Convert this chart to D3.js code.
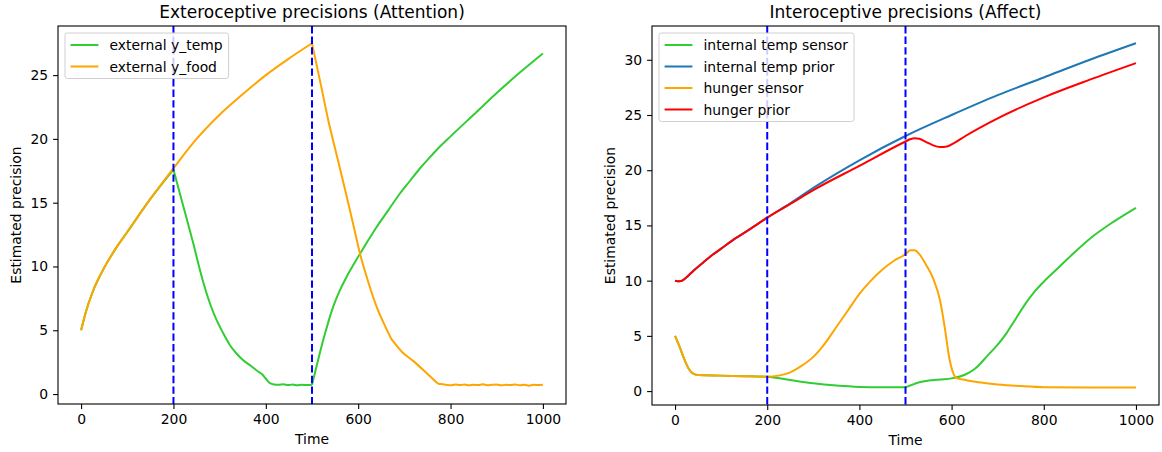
<!DOCTYPE html>
<html>
<head>
<meta charset="utf-8">
<title>Precisions</title>
<script src="https://d3js.org/d3.v7.min.js"></script>
<style>
  body { margin: 0; background: #fff; }
  svg text { font-family: "DejaVu Sans", sans-serif; fill: #000; }
</style>
</head>
<body>
<div id="chart"></div>
<script>
// ---- data ----
var timeTicks = [0, 200, 400, 600, 800, 1000];
var switchTimes = [200, 500];
var leftYTicks = [0, 5, 10, 15, 20, 25];
var rightYTicks = [0, 5, 10, 15, 20, 25, 30];

// left panel: external y_temp
var extTempT = [0, 10, 25, 50, 75, 100, 150, 200, 214, 229, 243, 255, 265, 280, 294, 308, 322, 336, 351, 368, 384, 392, 400, 409, 418,
  428, 438, 448, 458, 468, 478, 488, 500, 512, 524, 535, 546, 560, 575, 590, 604, 620, 640, 665, 690, 712, 734, 755, 777, 800, 850, 900, 950, 1000];
var extTempY = [5, 6.4, 8.0, 9.9, 11.4, 12.7, 15.3, 17.6, 15.7, 13.7, 11.8, 10.05, 8.7, 7.0, 5.75, 4.75, 3.85, 3.2, 2.65, 2.2, 1.75, 1.55, 1.2, 0.85, 0.75,
  0.72, 0.76, 0.7, 0.74, 0.69, 0.73, 0.7, 0.72, 2.5, 4.2, 5.6, 6.85, 8.1, 9.2, 10.15, 11.0, 11.95, 13.1, 14.4, 15.7, 16.7, 17.7, 18.55, 19.4, 20.2, 21.9, 23.6, 25.2, 26.7];

// left panel: external y_food
var extFoodT = [0, 10, 25, 50, 75, 100, 150, 200, 250, 300, 350, 400, 450, 500, 520, 535, 555, 575, 590, 604, 620, 640, 656, 672, 695, 719, 745, 773,
  790, 800, 810, 820, 830, 840, 850, 860, 870, 880, 890, 900, 910, 920, 930, 940, 950, 960, 970, 980, 990, 1000];
var extFoodY = [5, 6.4, 8.0, 9.9, 11.4, 12.7, 15.3, 17.7, 20.0, 21.9, 23.5, 25.0, 26.3, 27.5, 24.1, 21.5, 18.5, 15.5, 13.2, 11.0, 9.0, 6.84, 5.5, 4.3, 3.3, 2.6, 1.75, 0.8,
  0.72, 0.68, 0.75, 0.7, 0.74, 0.68, 0.73, 0.7, 0.76, 0.69, 0.72, 0.74, 0.68, 0.72, 0.7, 0.75, 0.69, 0.72, 0.66, 0.73, 0.7, 0.72];

// right panel
var intSensorT = [0, 10, 20, 30, 40, 50, 100, 150, 200, 250, 300, 350, 400, 450, 500, 510, 530, 550, 575, 600, 630, 650, 680, 700,
  720, 740, 760, 780, 800, 830, 860, 900, 950, 1000];
var intSensorY = [5, 4.0, 2.9, 2.0, 1.55, 1.45, 1.4, 1.35, 1.3, 1.0, 0.7, 0.5, 0.38, 0.35, 0.35, 0.5, 0.8, 0.95, 1.05, 1.15, 1.5, 2.0, 3.3, 4.2,
  5.3, 6.6, 7.9, 9.0, 9.9, 11.1, 12.3, 13.8, 15.3, 16.6];

var intPriorT = [0, 5, 15, 25, 40, 60, 80, 100, 130, 160, 200, 250, 300, 400, 500, 600, 700, 800, 900, 1000];
var intPriorY = [10, 9.95, 10.0, 10.3, 10.9, 11.6, 12.3, 12.9, 13.8, 14.6, 15.7, 17.0, 18.4, 20.9, 23.1, 25.0, 26.8, 28.4, 30.0, 31.5];

var hungerSensorT = [0, 10, 20, 30, 40, 50, 100, 150, 200, 225, 250, 275, 300, 325, 350, 375, 400, 425, 450, 475, 500, 510, 520, 530,
  545, 560, 575, 585, 595, 603, 610, 630, 660, 700, 750, 800, 900, 1000];
var hungerSensorY = [5, 4.0, 2.9, 2.0, 1.55, 1.45, 1.4, 1.35, 1.3, 1.4, 1.7, 2.3, 3.1, 4.3, 5.8, 7.3, 8.8, 10.0, 11.0, 11.8, 12.4, 12.75, 12.75, 12.4,
  11.4, 10.2, 8.2, 5.8, 3.0, 1.7, 1.2, 1.0, 0.8, 0.6, 0.45, 0.35, 0.32, 0.32];

var hungerPriorT = [0, 5, 15, 25, 40, 60, 80, 100, 130, 160, 200, 250, 300, 400, 500, 510, 520, 530, 545, 560, 575, 590, 605, 630, 700, 800, 900, 1000];
var hungerPriorY = [10, 9.95, 10.0, 10.3, 10.9, 11.6, 12.3, 12.9, 13.8, 14.6, 15.7, 16.95, 18.2, 20.4, 22.6, 22.8, 22.9, 22.85, 22.55, 22.25, 22.1, 22.15, 22.45, 23.1, 24.7, 26.6, 28.2, 29.7];

function zipSeries(t, y) { return t.map(function(d, i) { return [d, y[i]]; }); }

var panels = [
  { title: "Exteroceptive precisions (Attention)", box: [58, 26, 566, 404], ydom: [-0.78, 28.85], yticks: leftYTicks,
    series: [
      { name: "external y_temp", color: "#32cd32", data: zipSeries(extTempT, extTempY), corners: [200, 500] },
      { name: "external y_food", color: "#ffa500", data: zipSeries(extFoodT, extFoodY), corners: [500, 672, 773] }
    ] },
  { title: "Interoceptive precisions (Affect)", box: [652, 26, 1159, 405], ydom: [-1.26, 33.06], yticks: rightYTicks,
    series: [
      { name: "internal temp sensor", color: "#32cd32", data: zipSeries(intSensorT, intSensorY), corners: [500] },
      { name: "internal temp prior", color: "#1f77b4", data: zipSeries(intPriorT, intPriorY), corners: [] },
      { name: "hunger sensor", color: "#ffa500", data: zipSeries(hungerSensorT, hungerSensorY), corners: [] },
      { name: "hunger prior", color: "#ff0000", data: zipSeries(hungerPriorT, hungerPriorY), corners: [] }
    ] }
];

var svg = d3.select("#chart").append("svg")
  .attr("width", 1162).attr("height", 452);
svg.append("rect").attr("width", 1162).attr("height", 452).attr("fill", "#fff");

// split a series at sharp corners so the smoothing doesn't round them off
function pieces(data, corners) {
  var out = [], cur = [];
  data.forEach(function(d) {
    cur.push(d);
    if (corners.indexOf(d[0]) >= 0) { out.push(cur); cur = [d]; }
  });
  if (cur.length > 1) out.push(cur);
  return out;
}

panels.forEach(function(p) {
  var x0 = p.box[0], y0 = p.box[1], x1 = p.box[2], y1 = p.box[3];
  var x = d3.scaleLinear().domain([-50, 1050]).range([x0, x1]);
  var y = d3.scaleLinear().domain(p.ydom).range([y1, y0]);
  var g = svg.append("g");

  var clipId = "clip" + x0;
  g.append("clipPath").attr("id", clipId).append("rect")
    .attr("x", x0).attr("y", y0).attr("width", x1 - x0).attr("height", y1 - y0);

  var line = d3.line().x(function(d) { return x(d[0]); }).y(function(d) { return y(d[1]); })
    .curve(d3.curveMonotoneX);

  var plot = g.append("g").attr("clip-path", "url(#" + clipId + ")");
  p.series.forEach(function(s) {
    var d = pieces(s.data, s.corners).map(function(seg) { return line(seg); }).join("");
    plot.append("path").attr("d", d)
      .attr("fill", "none").attr("stroke", s.color).attr("stroke-width", 2)
      .attr("stroke-linejoin", "round").attr("stroke-linecap", "butt");
  });

  // dashed switch markers
  plot.selectAll("line.vl").data(switchTimes).enter().append("line")
    .attr("x1", function(d) { return x(d); }).attr("x2", function(d) { return x(d); })
    .attr("y1", y0).attr("y2", y1)
    .attr("stroke", "#0000ff").attr("stroke-width", 2).attr("stroke-dasharray", "7.4,3.2");

  // axes
  var xa = g.append("g").attr("transform", "translate(0," + y1 + ")")
    .call(d3.axisBottom(x).tickValues(timeTicks).tickFormat(d3.format("d"))
      .tickSize(4.9).tickPadding(4.9).tickSizeOuter(0));
  var ya = g.append("g").attr("transform", "translate(" + x0 + ",0)")
    .call(d3.axisLeft(y).tickValues(p.yticks).tickFormat(d3.format("d"))
      .tickSize(4.9).tickPadding(4.9).tickSizeOuter(0));
  [xa, ya].forEach(function(a) {
    a.select(".domain").remove();
    a.selectAll("line").attr("stroke", "#000").attr("stroke-width", 1.1);
    a.selectAll("text").attr("font-size", "13.9px").attr("font-family", "DejaVu Sans").attr("fill", "#000");
  });

  g.append("rect").attr("x", x0).attr("y", y0).attr("width", x1 - x0).attr("height", y1 - y0)
    .attr("fill", "none").attr("stroke", "#000").attr("stroke-width", 1.1);

  g.append("text").attr("x", (x0 + x1) / 2).attr("y", y0 - 8).attr("text-anchor", "middle")
    .attr("font-size", "17px").text(p.title);
  g.append("text").attr("x", (x0 + x1) / 2).attr("y", y1 + 40).attr("text-anchor", "middle")
    .attr("font-size", "13.9px").text("Time");
  g.append("text").attr("transform", "translate(" + (x0 - 37) + "," + ((y0 + y1) / 2) + ") rotate(-90)")
    .attr("text-anchor", "middle").attr("font-size", "13.9px").text("Estimated precision");

  // legend
  var lg = g.append("g");
  var lx = x0 + 7, ly = y0 + 7, rowH = 21.5;
  var box = lg.append("rect").attr("x", lx).attr("y", ly).attr("rx", 2.5).attr("ry", 2.5)
    .attr("fill", "#fff").attr("fill-opacity", 0.8).attr("stroke", "#d0d0d0").attr("stroke-width", 1);
  var maxW = 0;
  p.series.forEach(function(s, i) {
    var cy = ly + 12 + i * rowH;
    lg.append("line").attr("x1", lx + 5.6).attr("x2", lx + 33.4).attr("y1", cy).attr("y2", cy)
      .attr("stroke", s.color).attr("stroke-width", 2);
    var t = lg.append("text").attr("x", lx + 44.5).attr("y", cy + 5).attr("font-size", "13.9px").text(s.name);
    maxW = Math.max(maxW, t.node().getComputedTextLength());
  });
  box.attr("width", 44.5 + maxW + 6).attr("height", 12 + (p.series.length - 1) * rowH + 12);
});
</script>
</body>
</html>
